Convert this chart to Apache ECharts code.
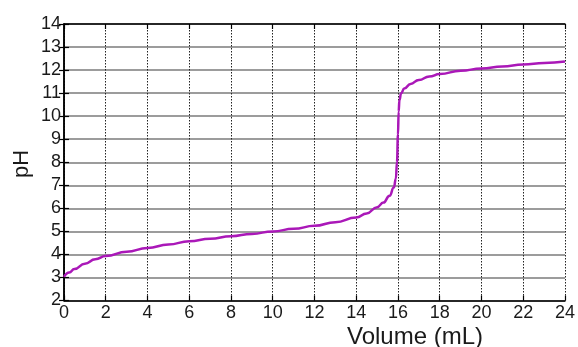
<!DOCTYPE html>
<html>
<head>
<meta charset="utf-8">
<script src="https://cdn.jsdelivr.net/npm/echarts@6/dist/echarts.min.js"></script>
<style>html,body{margin:0;padding:0;background:#fff;}#c{width:578px;height:347px;}</style>
</head>
<body>
<div id="c"></div>
<script>
var volume = [0, 0.25, 0.5, 1, 1.5, 2, 3, 4, 5, 6, 7, 8, 9, 10, 11, 12, 13, 14, 14.5, 15, 15.3, 15.6, 15.8, 15.9, 15.95, 16.0, 16.03, 16.07, 16.15, 16.3, 16.6, 17, 17.5, 18, 19, 20, 21, 22, 23, 24];
var pH = [3.03, 3.22, 3.37, 3.6, 3.79, 3.93, 4.12, 4.28, 4.43, 4.57, 4.68, 4.79, 4.89, 5.0, 5.11, 5.24, 5.4, 5.6, 5.78, 6.05, 6.25, 6.55, 6.9, 7.3, 8.0, 9.2, 10.2, 10.7, 11.0, 11.2, 11.4, 11.57, 11.72, 11.83, 11.97, 12.07, 12.16, 12.24, 12.31, 12.37];
var xTicks = [0, 2, 4, 6, 8, 10, 12, 14, 16, 18, 20, 22, 24];
var yTicks = [2, 3, 4, 5, 6, 7, 8, 9, 10, 11, 12, 13, 14];

var data = volume.map(function (v, i) { return [v, pH[i]]; });
var font = 'Liberation Sans, Arial, sans-serif';
var chart = echarts.init(document.getElementById('c'));
chart.setOption({
  animation: false,
  grid: { left: 64, right: 12, top: 24, bottom: 46.5, containLabel: false },
  xAxis: [{
    type: 'value', min: xTicks[0], max: xTicks[xTicks.length - 1], interval: 2,
    axisLine: { show: true, lineStyle: { color: '#000', width: 1.5 } },
    axisTick: { show: true, inside: true, length: 5, lineStyle: { color: '#000', width: 1.2 } },
    axisLabel: { color: '#1a1a1a', fontSize: 18, fontFamily: font, margin: 4 },
    splitLine: { show: true, lineStyle: { color: '#222', type: [1.5, 1.5], width: 1 } }
  }, {
    type: 'value', position: 'top', min: xTicks[0], max: xTicks[xTicks.length - 1], interval: 2,
    axisLine: { show: true, lineStyle: { color: '#000', width: 1.5 } },
    axisTick: { show: true, inside: true, length: 5, lineStyle: { color: '#000', width: 1.2 } },
    axisLabel: { show: false }, splitLine: { show: false }
  }],
  yAxis: [{
    type: 'value', min: yTicks[0], max: yTicks[yTicks.length - 1], interval: 1,
    axisLine: { show: true, lineStyle: { color: '#000', width: 1.5 } },
    axisTick: { show: true, inside: true, length: 5, lineStyle: { color: '#000', width: 1.2 } },
    axisLabel: { color: '#1a1a1a', fontSize: 18, fontFamily: font, margin: 3 },
    splitLine: { show: true, lineStyle: { color: '#9c9c9c', width: 2 } }
  }, {
    type: 'value', position: 'right', min: yTicks[0], max: yTicks[yTicks.length - 1], interval: 1,
    axisLine: { show: true, lineStyle: { color: '#000', width: 1.5 } },
    axisTick: { show: true, inside: true, length: 5, lineStyle: { color: '#000', width: 1.2 } },
    axisLabel: { show: false }, splitLine: { show: false }
  }],
  graphic: [
    { type: 'text', left: 347, top: 325, style: { text: 'Volume (mL)', font: '24px ' + font, fill: '#1a1a1a' } },
    { type: 'text', x: 22, y: 164, rotation: Math.PI / 2, style: { text: 'pH', font: '22px ' + font, fill: '#1a1a1a', align: 'center', verticalAlign: 'middle' } }
  ],
  series: [{
    type: 'line', data: data, showSymbol: false, smooth: 0.5, smoothMonotone: 'x',
    lineStyle: { color: '#aa18b8', width: 2.5 }, z: 5
  }]
});
</script>
</body>
</html>
